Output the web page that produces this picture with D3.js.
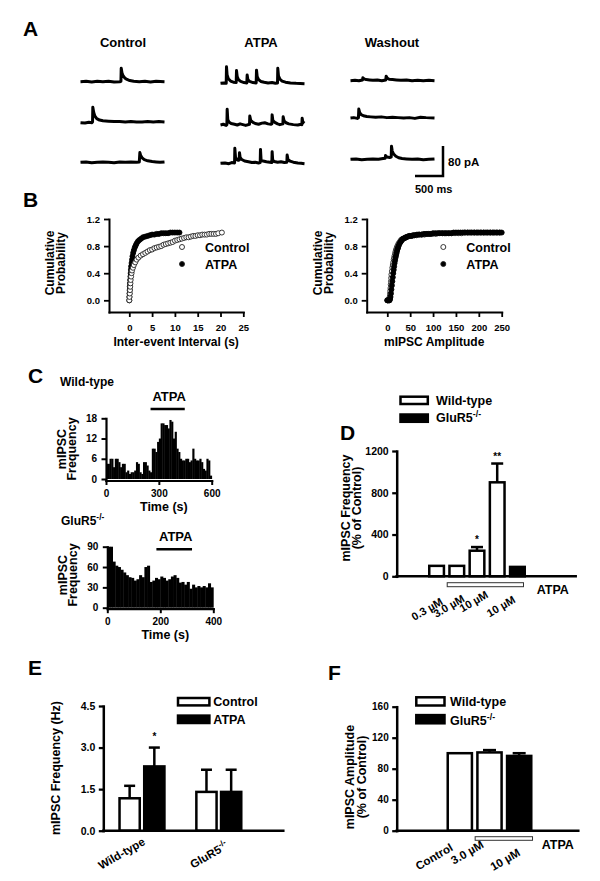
<!DOCTYPE html>
<html><head><meta charset="utf-8">
<script src="https://cdn.jsdelivr.net/npm/d3@7"></script>
<style>
body{margin:0;background:#fff;}
text{font-family:"Liberation Sans",Arial,Helvetica,sans-serif;font-weight:bold;fill:#000;}
</style></head><body>
<svg id="fig" width="600" height="881" xmlns="http://www.w3.org/2000/svg"></svg>
<script>
// ================= DATA =================
// Panel A: example traces, [time (ms), current (pA, upward)]
const traceTitles = ["Control", "ATPA", "Washout"];
const ctrlTrace1 = [[0,0],[100,1],[200,-1],[300,1],[400,0],[500,1],[600,-1],[700,0],[722,1],[727,36],[740,24],[760,16],[790,10],[830,6],[880,3],[950,1],[1050,0],[1150,1],[1250,-1],[1350,1],[1500,0]];
const ctrlTrace2 = [[0,0],[80,-1],[150,1],[205,0],[215,2],[220,41],[235,28],[255,18],[290,11],[340,7],[400,5],[500,4],[600,3],[700,3],[800,2],[900,3],[1000,2],[1100,2],[1200,3],[1300,2],[1400,3],[1500,2]];
const ctrlTrace3 = [[0,0],[100,1],[200,-1],[300,0],[400,1],[500,0],[600,-1],[700,1],[800,0],[900,1],[1000,0],[1050,1],[1060,26],[1075,18],[1100,12],[1140,7],[1200,4],[1280,2],[1350,1],[1420,0],[1500,1]];
const atpaTrace1 = [[0,0],[60,1],[102,0],[107,44],[118,22],[140,12],[180,6],[230,3],[280,2],[286,34],[298,18],[320,10],[360,5],[420,2],[470,1],[476,22],[488,10],[520,5],[580,2],[637,1],[643,35],[655,18],[680,10],[720,5],[780,3],[850,1],[920,2],[980,0],[1018,1],[1023,40],[1035,20],[1060,11],[1100,6],[1160,3],[1250,1],[1350,0],[1500,-1]];
const atpaTrace2 = [[0,0],[50,2],[100,-1],[114,1],[119,42],[130,14],[150,8],[190,4],[250,2],[300,0],[350,3],[400,1],[450,-1],[518,2],[523,24],[540,12],[580,7],[620,4],[680,2],[740,5],[790,6],[850,3],[900,2],[917,3],[922,27],[935,12],[970,7],[1020,3],[1060,1],[1114,3],[1119,22],[1135,11],[1170,6],[1220,3],[1300,1],[1380,0],[1440,2],[1453,1],[1458,18],[1470,8],[1500,5]];
const atpaTrace3 = [[0,0],[80,1],[150,-1],[200,2],[251,1],[256,40],[268,16],[290,10],[320,8],[334,9],[339,28],[350,16],[380,10],[430,6],[500,4],[560,2],[620,3],[680,1],[709,2],[714,37],[725,8],[760,6],[820,4],[880,3],[917,2],[922,31],[932,8],[960,5],[1020,3],[1080,4],[1140,2],[1185,3],[1190,22],[1205,10],[1240,6],[1300,3],[1380,1],[1440,0],[1500,-1]];
const washTrace1 = [[0,0],[80,1],[150,0],[215,2],[221,8],[240,5],[280,3],[340,2],[400,1],[480,2],[560,0],[630,2],[637,12],[655,7],[690,4],[750,3],[820,2],[900,1],[1000,2],[1100,0],[1200,1],[1300,0],[1400,1],[1500,0]];
const washTrace2 = [[0,0],[60,1],[120,-1],[142,1],[148,24],[165,14],[190,9],[230,6],[290,4],[360,3],[450,2],[550,3],[650,1],[750,2],[850,1],[950,0],[1050,1],[1150,-1],[1250,2],[1350,1],[1500,0]];
const washTrace3 = [[0,0],[100,1],[200,-1],[300,0],[400,1],[500,0],[580,2],[620,3],[625,10],[650,6],[700,5],[727,6],[732,35],[745,22],[770,14],[810,8],[860,4],[920,2],[1000,1],[1100,0],[1200,1],[1300,-1],[1400,0],[1500,1]];
const scaleBarPA = 80, scaleBarMS = 500;

// Panel B: cumulative distributions [value, cumulative probability]
const ieiControl = [[0,0],[0.05,0.05],[0.1,0.1],[0.15,0.15],[0.2,0.2],[0.25,0.25],[0.3,0.3],[0.4,0.35],[0.5,0.4],[0.6,0.44],[0.8,0.48],[1,0.52],[1.3,0.56],[1.6,0.6],[2,0.63],[2.5,0.66],[3,0.68],[3.5,0.7],[4,0.72],[4.5,0.74],[5,0.75],[5.5,0.77],[6,0.78],[6.5,0.79],[7,0.8],[7.5,0.82],[8,0.83],[8.5,0.84],[9,0.85],[9.5,0.86],[10,0.88],[10.5,0.89],[11,0.9],[11.5,0.91],[12,0.92],[12.5,0.93],[13,0.93],[13.5,0.94],[14,0.95],[14.5,0.95],[15,0.96],[15.5,0.96],[16,0.97],[16.5,0.97],[17,0.97],[17.5,0.98],[18,0.98],[18.5,0.98],[19,0.98],[19.5,0.99],[20.3,1.0]];
const ieiATPA = [[0,0],[0.02,0.05],[0.05,0.1],[0.08,0.15],[0.1,0.2],[0.15,0.25],[0.2,0.3],[0.25,0.35],[0.3,0.4],[0.35,0.45],[0.4,0.5],[0.5,0.55],[0.6,0.6],[0.7,0.65],[0.85,0.7],[1.0,0.74],[1.2,0.78],[1.4,0.81],[1.6,0.84],[1.9,0.87],[2.2,0.89],[2.6,0.91],[3,0.93],[3.5,0.94],[4,0.95],[4.5,0.96],[5,0.97],[5.5,0.97],[6,0.98],[6.5,0.98],[7,0.99],[7.5,0.99],[8,0.99],[8.5,0.99],[9,1],[9.5,1],[10,1],[10.5,1],[11,1]];
const ampControl = [[0,0],[2,0],[4,0],[5,0.02],[5.5,0.06],[6,0.1],[6.5,0.14],[7,0.18],[7.5,0.23],[8,0.28],[8.5,0.33],[9,0.38],[10,0.43],[11,0.48],[12,0.52],[13,0.56],[14,0.6],[15,0.63],[16,0.66],[17,0.69],[18,0.72],[19,0.74],[20,0.76],[21,0.78],[22,0.8],[24,0.83],[26,0.85],[28,0.87],[30,0.89],[32,0.9],[35,0.91],[38,0.92],[41,0.93],[45,0.94],[49,0.95],[54,0.95],[59,0.96],[64,0.96],[69,0.97],[75,0.97],[81,0.97],[87,0.98],[93,0.98],[99,0.98],[106,0.98],[113,0.99],[120,0.99],[127,0.99],[134,0.99],[141,0.99],[148,0.99],[155,0.99],[162,0.99],[169,1],[176,1],[183,1],[190,1],[197,1],[204,1],[211,1],[218,1],[225,1],[232,1],[239,1],[246,1]];
const ampATPA = [[0,0],[1,0],[3,0],[5,0],[6,0.02],[7,0.05],[8,0.1],[9,0.16],[10,0.22],[11,0.28],[12,0.34],[13,0.4],[14,0.45],[15,0.5],[16,0.55],[17,0.59],[18,0.63],[19,0.66],[20,0.69],[21,0.72],[22,0.75],[23,0.77],[24,0.79],[25,0.81],[27,0.84],[29,0.86],[31,0.88],[33,0.9],[35,0.91],[38,0.92],[41,0.93],[44,0.94],[48,0.95],[52,0.95],[56,0.96],[60,0.96],[65,0.97],[70,0.97],[75,0.97],[80,0.98],[85,0.98],[90,0.98],[95,0.98],[100,0.99],[105,0.99],[110,0.99],[115,0.99],[120,0.99],[125,0.99],[130,0.99],[135,0.99],[140,0.99],[145,1],[150,1],[155,1],[160,1],[165,1],[170,1],[175,1],[180,1],[185,1],[190,1],[195,1],[200,1],[205,1],[210,1],[215,1],[220,1],[225,1],[230,1],[235,1],[240,1],[245,1],[250,1]];
const cdfTicksY = [0, 0.4, 0.8, 1.2];
const ieiTicks = [0, 5, 10, 15, 20, 25];
const ampTicks = [0, 50, 100, 150, 200, 250];
const cdfSeries = ["Control", "ATPA"];

// Panel C: mIPSC frequency histograms, 10 s bins
const binWidth = 10;
const wtFreq = [4.5,4.5,6,6,3.5,6,6,5,3.5,4.5,4.5,2,2.5,1.5,2,2,2.5,5,4.5,2,1.5,5,5,4,2.5,2,9,9,8,11,12,16.5,16.5,16,16,15,17.5,17,12,14,9,8,6,5.5,5.5,6,6,5,5.5,9,6,5.5,5.5,6,5,3,2.5,6,5.5,1];
const koFreq = [90,90,68,62,60,56,52,48,45,44,40,42,48,45,60,62,38,40,44,42,46,44,40,42,46,48,44,37,38,34,38,28,34,30,32,30,32,30,36,30];
const wtTicksY = [0, 6, 12, 18], wtTicksX = [0, 300, 600];
const koTicksY = [0, 30, 60, 90], koTicksX = [0, 200, 400];
const wtATPAwindow = [260, 440];
const koATPAwindow = [190, 315];

// Panel D: mIPSC frequency (% of control)
const dLabels = ["0.3 µM", "3.0 µM", "10 µM", "", "10 µM"];
const dValues = [100, 100, 245, 900, 90];
const dErrors = [0, 0, 35, 180, 0];
const dGroup = ["Wild-type", "Wild-type", "Wild-type", "Wild-type", "GluR5"];
const dStars = ["", "", "*", "**", ""];
const dTicks = [0, 400, 800, 1200];
const dATPAbars = [1, 4];

// Panel E: mIPSC frequency (Hz)
const eGroups = ["Wild-type", "GluR5"];
const eSeries = ["Control", "ATPA"];
const eControl = [1.17, 1.4];
const eControlErr = [0.45, 0.8];
const eATPA = [2.32, 1.4];
const eATPAErr = [0.68, 0.8];
const eStarsATPA = ["*", ""];
const eTicks = [0, 1.5, 3.0, 4.5];

// Panel F: mIPSC amplitude (% of control)
const fLabels = ["Control", "3.0 µM", "10 µM"];
const fValues = [100, 101, 96.5];
const fErrors = [0, 3, 3.5];
const fGroup = ["Wild-type", "Wild-type", "GluR5"];
const fTicks = [0, 40, 80, 120, 160];
const fATPAbars = [1, 2];

// ================= DRAWING =================
const svg = d3.select("#fig");
svg.append("rect").attr("width", 600).attr("height", 881).attr("fill", "#fff");
const fillOf = g => g === "GluR5" ? "#000" : "#fff";

function txt(s, x, y, size, anchor = "start", rot = null) {
  const t = svg.append("text").attr("x", x).attr("y", y).attr("font-size", size)
    .attr("text-anchor", anchor).text(s);
  if (rot !== null) t.attr("transform", `rotate(${rot},${x},${y})`);
  return t;
}
function gluText(x, y, size, anchor = "start", rot = null) {
  const t = svg.append("text").attr("x", x).attr("y", y).attr("font-size", size).attr("text-anchor", anchor);
  t.append("tspan").text("GluR5");
  t.append("tspan").attr("dy", -size * 0.4).attr("font-size", size * 0.7).text("-/-");
  if (rot !== null) t.attr("transform", `rotate(${rot},${x},${y})`);
  return t;
}
function styleAxis(g, size, lw = 2.2) {
  g.attr("font-size", size).attr("font-family", null);
  g.select(".domain").attr("stroke", "#000").attr("stroke-width", lw).attr("stroke-linecap", "square");
  g.selectAll(".tick line").attr("stroke", "#000").attr("stroke-width", lw * 0.9);
}
function hline(x1, x2, y, w = 2.5) {
  svg.append("line").attr("x1", x1).attr("x2", x2).attr("y1", y).attr("y2", y)
    .attr("stroke", "#000").attr("stroke-width", w).attr("stroke-linecap", "square");
}

// Panel letters
[["A", 23, 36], ["B", 23, 207], ["C", 28, 383], ["D", 340, 440], ["E", 28, 675], ["F", 328, 680]]
  .forEach(([l, x, y]) => txt(l, x, y, 21));

// ---------- Panel A ----------
const traceSets = [[ctrlTrace1, ctrlTrace2, ctrlTrace3], [atpaTrace1, atpaTrace2, atpaTrace3], [washTrace1, washTrace2, washTrace3]];
const tX = d3.scaleLinear().domain([0, 1500]).range([0, 84]);
const tY = d3.scaleLinear().domain([0, 80]).range([0, -30]);
const colX = [80.5, 220.5, 350.5];
const rowY = [[81.7, 122.7, 162.3], [83.3, 125, 163.3], [80.7, 118, 159.3]];
const colTitleX = [123, 261, 392];
const tLine = d3.line().x(d => tX(d[0])).y(d => tY(d[1]));
traceSets.forEach((set, ci) => {
  txt(traceTitles[ci], colTitleX[ci], 47, 13, "middle");
  set.forEach((tr, ri) => {
    svg.append("path").attr("d", tLine(tr))
      .attr("transform", `translate(${colX[ci]},${rowY[ci][ri]})`)
      .attr("fill", "none").attr("stroke", "#000").attr("stroke-width", 3).attr("stroke-linejoin", "round");
  });
});
{
  const sx = 443, sy = 176;
  svg.append("path").attr("d", `M${sx - (tX(scaleBarMS) - tX(0))},${sy}H${sx}V${sy + tY(scaleBarPA)}`)
    .attr("fill", "none").attr("stroke", "#000").attr("stroke-width", 2.5);
  txt(`${scaleBarPA} pA`, 448, 166, 11.5);
  txt(`${scaleBarMS} ms`, 415, 193, 11);
}

// ---------- Panel B ----------
function cdfPanel(o) {
  const x = d3.scaleLinear().domain([0, o.xMax]).range([o.x0, o.x1]);
  const y = d3.scaleLinear().domain([0, 1.2]).range([300.3, 219]);
  const xA = x.copy().domain([x.invert(o.axisX), o.xMax]).range([o.axisX, o.x1]);
  const yA = y.copy().domain([y.invert(312), 1.2]).range([312, 219]);
  const gy = svg.append("g").attr("transform", `translate(${o.axisX},0)`)
    .call(d3.axisLeft(yA).tickValues(cdfTicksY).tickFormat(d3.format(".1f")).tickSize(5).tickSizeOuter(0).tickPadding(4));
  styleAxis(gy, 9.5, 2);
  const gx = svg.append("g").attr("transform", `translate(0,312)`)
    .call(d3.axisBottom(xA).tickValues(o.ticks).tickFormat(d3.format("d")).tickSize(5).tickSizeOuter(0).tickPadding(7));
  styleAxis(gx, 9.5, 2);
  const ctrlSet = [o.ctrl, "#fff", "#222"], atpaSet = [o.atpa, "#000", "#000"];
  const sets = o.ctrlOnTop ? [atpaSet, ctrlSet] : [ctrlSet, atpaSet];
  sets.forEach(([data, fill, stroke]) => {
    svg.append("g").selectAll("circle").data(data).join("circle")
      .attr("cx", d => x(d[0])).attr("cy", d => y(d[1])).attr("r", 2.5)
      .attr("fill", fill).attr("stroke", stroke).attr("stroke-width", 0.9);
  });
  cdfSeries.forEach((s, i) => {
    svg.append("circle").attr("cx", o.legX).attr("cy", 247 + i * 17).attr("r", 2.5)
      .attr("fill", i === 0 ? "#fff" : "#000").attr("stroke", "#222").attr("stroke-width", 0.9);
    txt(s, o.legX + 23, 251.5 + i * 17, 12.5);
  });
  txt("Cumulative", o.tX1, 263, 12, "middle", -90);
  txt("Probability", o.tX2, 263, 12, "middle", -90);
  txt(o.title, (o.axisX + o.x1) / 2, 345.5, 12, "middle");
}
cdfPanel({ xMax: 25, x0: 129.3, x1: 243.3, axisX: 109, ticks: ieiTicks, ctrl: ieiControl, atpa: ieiATPA,
  legX: 182, tX1: 54, tX2: 65, title: "Inter-event Interval (s)", ctrlOnTop: true });
cdfPanel({ xMax: 250, x0: 387.3, x1: 501.7, axisX: 366.7, ticks: ampTicks, ctrl: ampControl, atpa: ampATPA,
  legX: 443.3, tX1: 321.5, tX2: 332.5, title: "mIPSC Amplitude", ctrlOnTop: false });

// ---------- Panel C ----------
function histPanel(o) {
  const n = o.data.length;
  const x = d3.scaleLinear().domain([0, n * binWidth]).range([o.x0, o.x1]);
  const y = d3.scaleLinear().domain([0, o.yMax]).range([o.y0, o.y1]);
  svg.append("g").selectAll("rect").data(o.data).join("rect")
    .attr("x", (d, i) => x(i * binWidth)).attr("width", x(binWidth) - x(0) + 0.4)
    .attr("y", d => y(d)).attr("height", d => y(0) - y(d)).attr("fill", "#000");
  const yA = y.copy().domain([y.invert(o.axisY), o.yMax]).range([o.axisY, o.y1]);
  const gy = svg.append("g").attr("transform", `translate(${o.x0},0)`)
    .call(d3.axisLeft(yA).tickValues(o.ticksY).tickFormat(d3.format("d")).tickSize(4.5).tickSizeOuter(0).tickPadding(4.5));
  styleAxis(gy, 10, 2.2);
  const gx = svg.append("g").attr("transform", `translate(0,${o.axisY})`)
    .call(d3.axisBottom(x).tickValues(o.ticksX).tickFormat(d3.format("d")).tickSize(4.5).tickSizeOuter(0).tickPadding(4.5));
  styleAxis(gx, 10, 2.2);
  hline(x(o.win[0]), x(o.win[1]), o.barY, 2.5);
  txt("ATPA", (x(o.win[0]) + x(o.win[1])) / 2 + 1.5, o.barY - 8.5, 13, "middle");
  txt("mIPSC", o.x0 - 40, o.tY, 12.5, "middle", -90);
  txt("Frequency", o.x0 - 30, o.tY, 12.5, "middle", -90);
  txt("Time (s)", (o.x0 + o.x1) / 2 + 5, o.axisY + 30, 12.5, "middle");
}
histPanel({ data: wtFreq, x0: 106, x1: 211.7, y0: 479, y1: 418.3, yMax: 18, axisY: 480.5,
  ticksY: wtTicksY, ticksX: wtTicksX, win: wtATPAwindow, barY: 409, tY: 449 });
txt("Wild-type", 60, 386, 12);
histPanel({ data: koFreq, x0: 107.3, x1: 213.3, y0: 607.7, y1: 546.7, yMax: 90, axisY: 608.7,
  ticksY: koTicksY, ticksX: koTicksX, win: koATPAwindow, barY: 549.3, tY: 575 });
gluText(61, 525, 12);

// ---------- Panel D ----------
{
  const y = d3.scaleLinear().domain([0, 1200]).range([576.3, 451]);
  const x = d3.scaleBand().domain(d3.range(dValues.length)).range([427, 527]).paddingInner(0.15).paddingOuter(0.05);
  const bw = x.bandwidth();
  const g = svg.append("g");
  dValues.forEach((v, i) => {
    const cx = x(i) + bw / 2;
    if (dErrors[i] > 0) {
      g.append("line").attr("x1", cx).attr("x2", cx).attr("y1", y(v)).attr("y2", y(v + dErrors[i]))
        .attr("stroke", "#000").attr("stroke-width", 2.5);
      g.append("line").attr("x1", cx - 6).attr("x2", cx + 6).attr("y1", y(v + dErrors[i])).attr("y2", y(v + dErrors[i]))
        .attr("stroke", "#000").attr("stroke-width", 2.5);
    }
    g.append("rect").attr("x", x(i) + 1.25).attr("width", bw - 2.5).attr("y", y(v)).attr("height", y(0) - y(v))
      .attr("fill", fillOf(dGroup[i])).attr("stroke", "#000").attr("stroke-width", 2.5);
    if (dStars[i]) txt(dStars[i], cx, y(v + dErrors[i]) - 4, 10, "middle");
  });
  const gy = svg.append("g").attr("transform", "translate(396.7,0)")
    .call(d3.axisLeft(y).tickValues(dTicks).tickFormat(d3.format("d")).tickSize(4.5).tickSizeOuter(0).tickPadding(3.5));
  styleAxis(gy, 10.5, 2.5);
  hline(396.7, 575.7, y(0), 2.5);
  const bx0 = x(dATPAbars[0]) - 1, bx1 = x(dATPAbars[1]) + bw - 2.5;
  svg.append("rect").attr("x", bx0).attr("y", 582.7).attr("width", bx1 - bx0).attr("height", 4)
    .attr("fill", "#fff").attr("stroke", "#333").attr("stroke-width", 1);
  txt("ATPA", 536.7, 594, 12.5);
  const dLabelOff = [[7, 604], [8.7, 601], [12, 597], [0, 0], [-1.3, 602]];
  dLabels.forEach((l, i) => {
    if (!l) return;
    txt(l, x(i) + bw / 2 + dLabelOff[i][0], dLabelOff[i][1], 11, "end", -30);
  });
  // legend
  ["Wild-type", "GluR5"].forEach((s, i) => {
    svg.append("rect").attr("x", 400.5).attr("y", 396.7 + i * 17.8).attr("width", 27.3).attr("height", 7.3)
      .attr("fill", fillOf(s)).attr("stroke", "#000").attr("stroke-width", 2.5);
    if (s === "GluR5") gluText(436, 404.5 + i * 17.8, 12.5); else txt(s, 436, 404.5, 12.5);
  });
  txt("mIPSC Frequency", 350, 508, 12.5, "middle", -90);
  txt("(% of Control)", 361, 508, 12.5, "middle", -90);
}

// ---------- Panel E ----------
{
  const y = d3.scaleLinear().domain([0, 4.5]).range([830.7, 706]);
  const x = d3.scaleBand().domain(eGroups).range([103.3, 257.5]).paddingInner(0.383).paddingOuter(0.195);
  const xs = d3.scaleBand().domain(eSeries).range([0, x.bandwidth()]).paddingInner(0.08);
  const bw = xs.bandwidth();
  const series = [[eControl, eControlErr, "#fff", ["", ""]], [eATPA, eATPAErr, "#000", eStarsATPA]];
  series.forEach(([vals, errs, fill, stars], si) => {
    vals.forEach((v, gi) => {
      const x0 = x(eGroups[gi]) + xs(eSeries[si]);
      const cx = x0 + bw / 2;
      svg.append("line").attr("x1", cx).attr("x2", cx).attr("y1", y(v)).attr("y2", y(v + errs[gi]))
        .attr("stroke", "#000").attr("stroke-width", 2.5);
      svg.append("line").attr("x1", cx - 5.5).attr("x2", cx + 5.5).attr("y1", y(v + errs[gi])).attr("y2", y(v + errs[gi]))
        .attr("stroke", "#000").attr("stroke-width", 2.5);
      svg.append("rect").attr("x", x0 + 1.25).attr("width", bw - 2.5).attr("y", y(v)).attr("height", y(0) - y(v))
        .attr("fill", fill).attr("stroke", "#000").attr("stroke-width", 2.5);
      if (stars[gi]) txt(stars[gi], cx, y(v + errs[gi]) - 8, 10, "middle");
    });
  });
  const gy = svg.append("g").attr("transform", "translate(103.3,0)")
    .call(d3.axisLeft(y).tickValues(eTicks).tickFormat(d3.format(".1f")).tickSize(4.5).tickSizeOuter(0).tickPadding(3.5));
  styleAxis(gy, 10.5, 2.5);
  hline(103.3, 283.3, y(0), 2.5);
  eSeries.forEach((s, i) => {
    svg.append("rect").attr("x", 178).attr("y", 698 + i * 17.6).attr("width", 31.4).attr("height", 7.4)
      .attr("fill", i === 0 ? "#fff" : "#000").attr("stroke", "#000").attr("stroke-width", 2.5);
    txt(s, 213.3, 706 + i * 17.8, 12.5);
  });
  txt("Wild-type", x("Wild-type") + x.bandwidth() / 2 + 4, 844, 11.5, "end", -30);
  gluText(x("GluR5") + x.bandwidth() / 2 + 10, 848, 11.5, "end", -30);
  txt("mIPSC Frequency (Hz)", 59.5, 768, 12.5, "middle", -90);
}

// ---------- Panel F ----------
{
  const y = d3.scaleLinear().domain([0, 160]).range([830.7, 706.7]);
  const x = d3.scaleBand().domain(d3.range(fValues.length)).range([445, 534]).paddingInner(0.1).paddingOuter(0.05);
  const bw = x.bandwidth();
  fValues.forEach((v, i) => {
    const cx = x(i) + bw / 2;
    if (fErrors[i] > 0) {
      svg.append("line").attr("x1", cx).attr("x2", cx).attr("y1", y(v)).attr("y2", y(v + fErrors[i]))
        .attr("stroke", "#000").attr("stroke-width", 2.5);
      svg.append("line").attr("x1", cx - 6.5).attr("x2", cx + 6.5).attr("y1", y(v + fErrors[i])).attr("y2", y(v + fErrors[i]))
        .attr("stroke", "#000").attr("stroke-width", 2.5);
    }
    svg.append("rect").attr("x", x(i) + 1.25).attr("width", bw - 2.5).attr("y", y(v)).attr("height", y(0) - y(v))
      .attr("fill", fillOf(fGroup[i])).attr("stroke", "#000").attr("stroke-width", 2.5);
  });
  const gy = svg.append("g").attr("transform", "translate(396.7,0)")
    .call(d3.axisLeft(y).tickValues(fTicks).tickFormat(d3.format("d")).tickSize(4.5).tickSizeOuter(0).tickPadding(3.5));
  styleAxis(gy, 10, 2.5);
  hline(396.7, 578.3, y(0), 2.5);
  const bx0 = x(fATPAbars[0]) - 1, bx1 = x(fATPAbars[1]) + bw;
  svg.append("rect").attr("x", bx0).attr("y", 836.7).attr("width", bx1 - bx0).attr("height", 3.6)
    .attr("fill", "#fff").attr("stroke", "#333").attr("stroke-width", 1);
  txt("ATPA", 541.7, 849, 12.5);
  const fLabelOff = [[-6, 850], [-5, 847], [2, 855]];
  fLabels.forEach((l, i) => txt(l, x(i) + bw / 2 + fLabelOff[i][0], fLabelOff[i][1], 11.5, "end", -30));
  ["Wild-type", "GluR5"].forEach((s, i) => {
    svg.append("rect").attr("x", 416.3).attr("y", 697.3 + i * 17.8).attr("width", 28.2).attr("height", 8.2)
      .attr("fill", fillOf(s)).attr("stroke", "#000").attr("stroke-width", 2.5);
    if (s === "GluR5") gluText(450, 724.5, 12.5); else txt(s, 450, 706, 12.5);
  });
  txt("mIPSC Amplitude", 354, 777, 12.5, "middle", -90);
  txt("(% of Control)", 365.5, 777, 12.5, "middle", -90);
}
</script>
</body></html>
